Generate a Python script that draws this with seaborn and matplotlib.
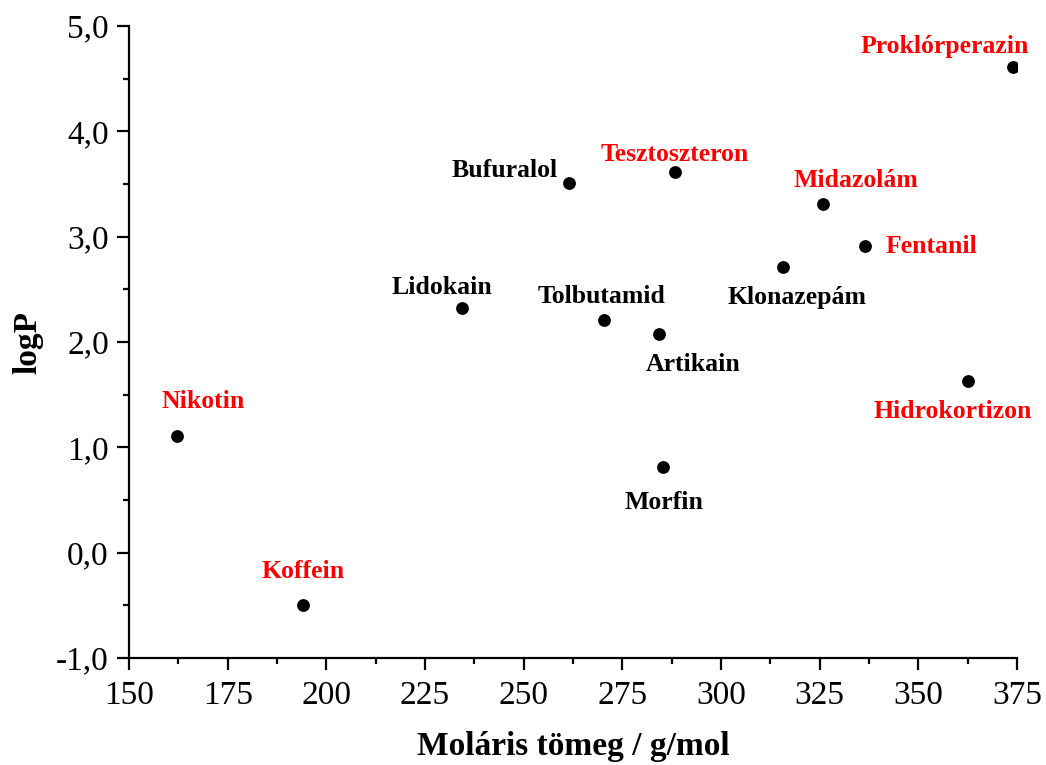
import matplotlib
matplotlib.use("Agg")
import matplotlib.pyplot as plt
import seaborn as sns
import pandas as pd
from matplotlib.ticker import MultipleLocator, FuncFormatter

names = ["Nikotin", "Koffein", "Lidokain", "Bufuralol", "Tolbutamid", "Tesztoszteron",
         "Artikain", "Morfin", "Klonazepám", "Midazolám", "Fentanil", "Hidrokortizon",
         "Proklórperazin"]
mol_mass = [162.2, 194.2, 234.3, 261.4, 270.4, 288.4, 284.4, 285.3, 315.7, 325.8, 336.5, 362.5, 373.9]
logp = [1.11, -0.50, 2.32, 3.51, 2.21, 3.61, 2.08, 0.81, 2.71, 3.31, 2.91, 1.63, 4.61]
highlight = [True, True, False, False, False, True, False, False, False, True, True, True, True]

# label offsets in points (layout only)
offsets = {
    "Nikotin": (19, 25, "center"), "Koffein": (0, 24, "center"), "Lidokain": (-14, 15, "center"),
    "Bufuralol": (-8, 9, "right"), "Tolbutamid": (-2, 17, "center"), "Tesztoszteron": (0, 13, "center"),
    "Artikain": (24, -22, "center"), "Morfin": (1, -25, "center"), "Klonazepám": (10, -22, "center"),
    "Midazolám": (24, 17, "center"), "Fentanil": (15, 0, "left"), "Hidrokortizon": (-11, -22, "center"),
    "Proklórperazin": (-49, 15, "center"),
}

df = pd.DataFrame({"name": names, "M": mol_mass, "logP": logp, "hl": highlight})

sns.set_style("ticks")
plt.rcParams["font.family"] = ["Liberation Serif", "DejaVu Serif"]

fig = plt.figure(figsize=(10.46, 7.65), dpi=100)
ax = fig.add_axes([129/1046, 1 - 658/765, (1017 - 129)/1046, (658 - 26)/765])

sns.scatterplot(data=df, x="M", y="logP", ax=ax, color="black", s=85, edgecolor="black",
                linewidth=0, zorder=3, legend=False)

for n, xv, yv, h in zip(names, mol_mass, logp, highlight):
    dx, dy, ha = offsets[n]
    ax.annotate(n, (xv, yv), xytext=(dx, dy), textcoords="offset points", ha=ha, va="center",
                fontsize=18.5, fontweight="bold", color="#ff0000" if h else "black")

ax.set_xlim(150, 375)
ax.set_ylim(-1, 5)
ax.xaxis.set_major_locator(MultipleLocator(25))
ax.xaxis.set_minor_locator(MultipleLocator(12.5))
ax.yaxis.set_major_locator(MultipleLocator(1))
ax.yaxis.set_minor_locator(MultipleLocator(0.5))
ax.yaxis.set_major_formatter(FuncFormatter(lambda v, p: f"{v:.1f}".replace(".", ",")))

for s in ["top", "right"]:
    ax.spines[s].set_visible(False)
for s in ["left", "bottom"]:
    ax.spines[s].set_linewidth(1.6)
    ax.spines[s].set_color("black")

ax.tick_params(which="major", direction="out", length=8.5, width=1.6, labelsize=24, colors="black")
ax.tick_params(axis="x", which="major", pad=8)
ax.tick_params(axis="y", which="major", pad=6)
ax.tick_params(which="minor", direction="out", length=4, width=1.6, colors="black")

ax.set_xlabel("Moláris tömeg / g/mol", fontsize=24, fontweight="bold", labelpad=14, color="black")
ax.set_ylabel("logP", fontsize=24, fontweight="bold", labelpad=9, color="black")

fig.savefig("out.png", dpi=100, facecolor="white")
